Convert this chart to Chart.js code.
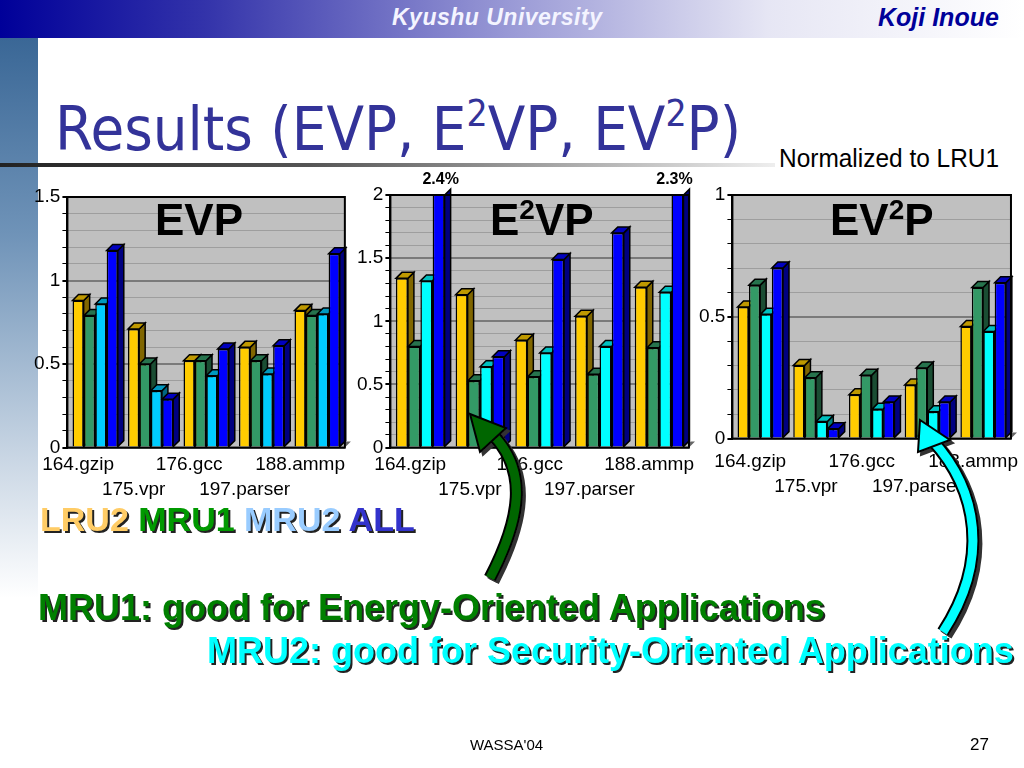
<!DOCTYPE html>
<html><head><meta charset="utf-8">
<script src="https://cdn.jsdelivr.net/npm/chart.js@4.4.1/dist/chart.umd.min.js"></script>
<style>
html,body{margin:0;padding:0;width:1024px;height:768px;overflow:hidden;background:#fff;font-family:"Liberation Sans",Arial,sans-serif;}
.abs{position:absolute;}
#hdr{left:0;top:0;width:1024px;height:38px;background:linear-gradient(90deg,#000099 0%,#3333aa 20%,#9a9ad6 50%,#e6e6f4 75%,#ffffff 100%);}
#strip{left:0;top:38px;width:38px;height:560px;background:linear-gradient(180deg,#3a6796 0%,#6f93b8 35%,#c9d6e4 75%,#ffffff 100%);}
#ku{left:392px;top:4px;font:italic bold 23px "Liberation Sans",sans-serif;color:#f4f4ff;letter-spacing:0.5px;}
#ki{left:878px;top:3px;font:italic bold 25px "Liberation Sans",sans-serif;color:#000099;}
#title{left:55px;top:93px;font:61px "DejaVu Sans Condensed","DejaVu Sans",sans-serif;color:#333399;white-space:nowrap;}
#title sup{font-size:37px;vertical-align:24px;line-height:0;}
#uline{left:0;top:163px;width:775px;height:4px;background:linear-gradient(90deg,#222 0%,#555 40%,#bbb 80%,#eee 100%);}
#norm{left:779px;top:143px;font:26px "Liberation Sans",sans-serif;color:#000;transform:scaleX(0.94);transform-origin:0 0;white-space:nowrap;}
.ct{font:bold 44px "Liberation Sans",sans-serif;color:#000;white-space:nowrap;}
.ct sup{font-size:28px;vertical-align:16px;line-height:0;}
.sh{font:bold 36px "Liberation Sans",sans-serif;text-shadow:2px 2px 0 #222;white-space:nowrap;}
#foot1{left:470px;top:736px;font:15px "Liberation Sans",sans-serif;}
#foot2{left:970px;top:735px;font:17px "Liberation Sans",sans-serif;}
</style></head>
<body>
<div id="hdr" class="abs"></div>
<div id="strip" class="abs"></div>
<div id="ku" class="abs">Kyushu University</div>
<div id="ki" class="abs">Koji Inoue</div>
<div id="title" class="abs">Results (EVP, E<sup>2</sup>VP, EV<sup>2</sup>P)</div>
<div id="uline" class="abs"></div>
<div id="norm" class="abs">Normalized to LRU1</div>

<div class="abs" style="left:32px;top:183px;width:335px;height:324px;"><canvas id="c1" width="335" height="324"></canvas></div>
<div class="abs" style="left:355px;top:163px;width:354px;height:344px;"><canvas id="c2" width="354" height="344"></canvas></div>
<div class="abs" style="left:697px;top:179px;width:342px;height:331px;"><canvas id="c3" width="342" height="331"></canvas></div>

<div class="abs ct" style="left:155px;top:195px;">EVP</div>
<div class="abs ct" style="left:490px;top:195px;">E<sup>2</sup>VP</div>
<div class="abs ct" style="left:830px;top:195px;">EV<sup>2</sup>P</div>

<svg class="abs" style="left:0;top:0;" width="1024" height="768">
  <defs>
    <filter id="ds"><feDropShadow dx="3" dy="3" stdDeviation="0" flood-color="#333"/></filter>
  </defs>
  <g filter="url(#ds)">
    <path d="M490,578 C520,520 530,470 490,432" fill="none" stroke="#000" stroke-width="13"/>
    <path d="M490,578 C520,520 530,470 490,432" fill="none" stroke="#006600" stroke-width="9"/>
    <polygon points="470,414 506,428 480,452" fill="#006600" stroke="#000" stroke-width="2"/>
    <path d="M943,632 C990,560 978,490 932,440" fill="none" stroke="#000" stroke-width="13"/>
    <path d="M943,632 C990,560 978,490 932,440" fill="none" stroke="#00ffff" stroke-width="9"/>
    <polygon points="920,420 950,440 918,452" fill="#00ffff" stroke="#000" stroke-width="2"/>
  </g>
</svg>

<div class="abs sh" style="left:40px;top:500px;font-size:34px;"><span style="color:#ffcc66">LRU2</span> <span style="color:#009900">MRU1</span> <span style="color:#99ccff">MRU2</span> <span style="color:#3333cc">ALL</span></div>
<div class="abs sh" style="left:38px;top:587px;color:#008000;">MRU1: good for Energy-Oriented Applications</div>
<div class="abs sh" style="left:207px;top:630px;color:#00ffff;">MRU2: good for Security-Oriented Applications</div>

<div id="foot1" class="abs">WASSA'04</div>
<div id="foot2" class="abs">27</div>

<script>
const categories = ['164.gzip','175.vpr','176.gcc','197.parser','188.ammp'];
const seriesNames = ['LRU2','MRU1','MRU2','ALL'];

const evpLRU2 = [0.88, 0.71, 0.52, 0.60, 0.82];
const evpMRU1 = [0.79, 0.50, 0.52, 0.52, 0.79];
const evpMRU2 = [0.86, 0.34, 0.43, 0.44, 0.80];
const evpALL  = [1.18, 0.29, 0.59, 0.61, 1.16];

const e2vpLRU2 = [1.34, 1.21, 0.85, 1.04, 1.27];
const e2vpMRU1 = [0.80, 0.53, 0.56, 0.58, 0.79];
const e2vpMRU2 = [1.32, 0.64, 0.75, 0.80, 1.23];
const e2vpALL  = [2.4, 0.72, 1.49, 1.70, 2.3];

const ev2pLRU2 = [0.54, 0.30, 0.18, 0.22, 0.46];
const ev2pMRU1 = [0.63, 0.25, 0.26, 0.29, 0.62];
const ev2pMRU2 = [0.51, 0.07, 0.12, 0.11, 0.44];
const ev2pALL  = [0.70, 0.04, 0.15, 0.15, 0.64];

const yMaxEVP = 1.5, yMaxE2VP = 2, yMaxEV2P = 1;

const offLabels = {c2: ['2.4%', '', '', '', '2.3%']};

function shade(hex, f){
  const n=parseInt(hex.slice(1),16);
  const r=Math.round(((n>>16)&255)*f), g=Math.round(((n>>8)&255)*f), b=Math.round((n&255)*f);
  return `rgb(${r},${g},${b})`;
}

const D = 6;
const plot3d = {
  id:'plot3d',
  beforeDatasetsDraw(chart){
    const {ctx, chartArea:a} = chart;
    ctx.save();
    ctx.globalCompositeOperation='destination-over';
    ctx.fillStyle='#c0c0c0';
    ctx.fillRect(a.left, a.top, a.right-a.left, a.bottom-a.top);
    ctx.restore();
  }
};
const depthPlugin = {
  id:'depth',
  beforeDatasetsDraw(chart){
    const {ctx, chartArea:a} = chart;
    ctx.save();
    ctx.beginPath(); ctx.rect(a.left, a.top-D-2, a.right-a.left+D+2, a.bottom-a.top+D+2); ctx.clip();
    chart.data.datasets.forEach((ds,di)=>{
      const meta=chart.getDatasetMeta(di);
      meta.data.forEach(bar=>{
        const w=bar.width, x0=bar.x-w/2, x1=bar.x+w/2;
        const yt=Math.max(bar.y, a.top), yb=bar.base;
        ctx.lineWidth=1.5; ctx.strokeStyle='#000';
        ctx.fillStyle=shade(ds.backgroundColor,0.5);
        ctx.beginPath(); ctx.moveTo(x1,yt); ctx.lineTo(x1+D,yt-D); ctx.lineTo(x1+D,yb-D); ctx.lineTo(x1,yb); ctx.closePath(); ctx.fill(); ctx.stroke();
        if (bar.y >= a.top) {
          ctx.fillStyle=shade(ds.backgroundColor,0.75);
          ctx.beginPath(); ctx.moveTo(x0,yt); ctx.lineTo(x0+D,yt-D); ctx.lineTo(x1+D,yt-D); ctx.lineTo(x1,yt); ctx.closePath(); ctx.fill(); ctx.stroke();
        }
      });
    });
    ctx.restore();
  },
  afterDatasetsDraw(chart){
    const {ctx, chartArea:a} = chart;
    ctx.save();
    ctx.fillStyle='#666';
    ctx.beginPath(); ctx.moveTo(a.left,a.bottom); ctx.lineTo(a.left+D,a.bottom-D); ctx.lineTo(a.right+D,a.bottom-D); ctx.lineTo(a.right,a.bottom); ctx.closePath();
    ctx.globalCompositeOperation='destination-over'; ctx.fill();
    ctx.globalCompositeOperation='source-over';
    ctx.strokeStyle='#000'; ctx.lineWidth=2;
    ctx.strokeRect(a.left, a.top, a.right-a.left, a.bottom-a.top);
    const lab = offLabels[chart.canvas.id];
    if (lab){
      const meta=chart.getDatasetMeta(3);
      ctx.font='bold 16px "Liberation Sans", sans-serif'; ctx.fillStyle='#000'; ctx.textAlign='center'; ctx.textBaseline='bottom';
      lab.forEach((t,i)=>{ if(t){ ctx.fillText(t, meta.data[i].x + (i===0?2:-3), a.top-7); } });
    }
    ctx.restore();
  }
};

function makeChart(id, vals, colors, yMax, padTop, lblOff, tickPad){
  const datasets = vals.map((v,i)=>({label:seriesNames[i], data:v, backgroundColor:colors[i], borderColor:'#000', borderWidth:1.5, clip:0}));
  return new Chart(document.getElementById(id), {
    type:'bar',
    data:{labels:categories, datasets},
    options:{
      responsive:false, animation:false,
      layout:{padding:{top:padTop,right:0,left:0,bottom:0}},
      plugins:{legend:{display:false}, tooltip:{enabled:false}, title:{display:false}},
      datasets:{bar:{categoryPercentage:0.82, barPercentage:0.98}},
      scales:{
        x:{
          grid:{display:false, drawTicks:false},
          border:{display:false},
          ticks:{
            autoSkip:false, maxRotation:0, color:'#000', padding:tickPad, labelOffset:lblOff,
            font:{family:'"Liberation Sans", sans-serif', size:19, lineHeight:1.3},
            callback:(v,i)=> i%2===0 ? [categories[i],''] : ['',categories[i]]
          }
        },
        y:{
          min:0, max:yMax,
          border:{display:true, color:'#000', width:2},
          grid:{
            color:(c)=> (c.tick && Math.abs(c.tick.value*2-Math.round(c.tick.value*2))<1e-6) ? '#7a7a7a' : '#9e9e9e',
            lineWidth:(c)=> (c.tick && Math.abs(c.tick.value*2-Math.round(c.tick.value*2))<1e-6) ? 2 : 1,
            drawTicks:true, tickLength:5, tickColor:'#000'
          },
          ticks:{
            stepSize:0.1, autoSkip:false, color:'#000', padding:2,
            font:{family:'"Liberation Sans", sans-serif', size:19},
            callback:(v)=> Math.abs(v*2-Math.round(v*2))<1e-6 ? String(Math.round(v*2)/2) : ''
          }
        }
      }
    },
    plugins:[plot3d, depthPlugin]
  });
}

makeChart('c1', [evpLRU2, evpMRU1, evpMRU2, evpALL], ['#ffcc00','#339966','#00ccff','#0000ff'], yMaxEVP, 14, -17, 5);
makeChart('c2', [e2vpLRU2, e2vpMRU1, e2vpMRU2, e2vpALL], ['#ffcc00','#339966','#00ffff','#0000ff'], yMaxE2VP, 32, -10, 5);
makeChart('c3', [ev2pLRU2, ev2pMRU1, ev2pMRU2, ev2pALL], ['#ffcc00','#339966','#00ffff','#0000ff'], yMaxEV2P, 16, -10, 11);
</script>
</body></html>
